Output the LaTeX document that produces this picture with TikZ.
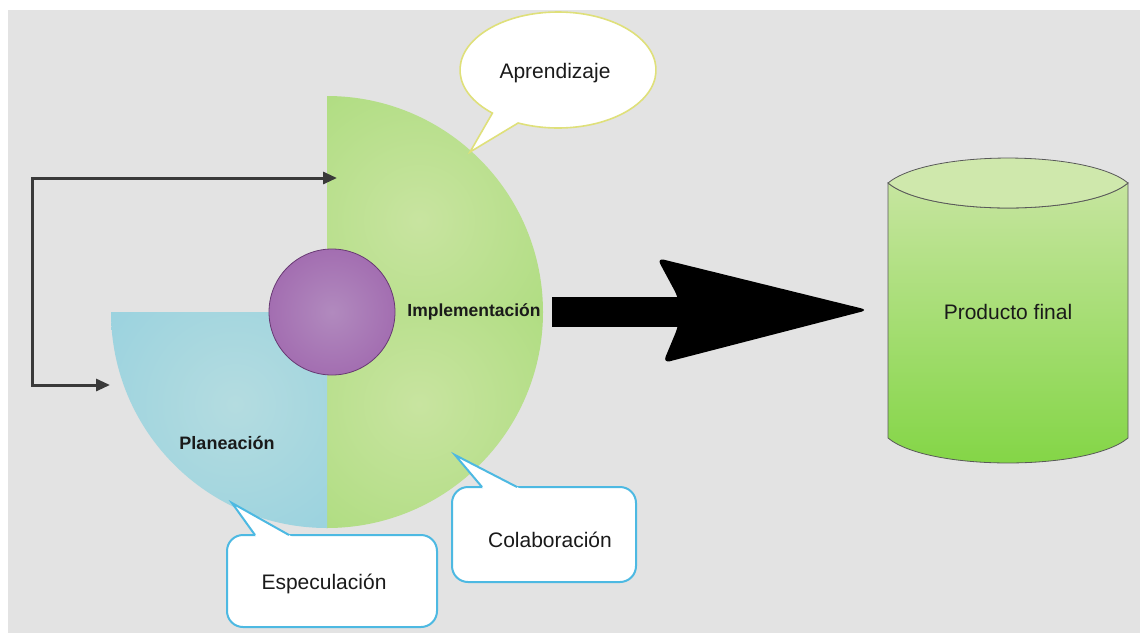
\documentclass[tikz,border=0pt]{standalone}
\usepackage{fontspec}
\setmainfont{Liberation Sans}
\usetikzlibrary{arrows.meta}
\definecolor{bg}{HTML}{E3E3E3}
\definecolor{greenin}{HTML}{C8E4A0}
\definecolor{greenout}{HTML}{88D150}
\definecolor{bluein}{HTML}{B4DCE0}
\definecolor{blueout}{HTML}{70C2DC}
\definecolor{purplein}{HTML}{B18ABE}
\definecolor{purpleout}{HTML}{9552A4}
\definecolor{cyltop}{HTML}{CFE8AC}
\definecolor{cylup}{HTML}{C6E59F}
\definecolor{cyldown}{HTML}{82D544}
\definecolor{callblue}{HTML}{4DB9E2}
\definecolor{callyellow}{HTML}{DFE07A}
\definecolor{fbgray}{HTML}{3A3A3A}
\definecolor{txt}{HTML}{1A1A1A}
\pgfdeclareradialshading{greenq}{\pgfpointorigin}{color(0bp)=(greenin); color(50bp)=(greenout)}
\pgfdeclareradialshading{blueq}{\pgfpointorigin}{color(0bp)=(bluein); color(50bp)=(blueout)}
\pgfdeclareradialshading{purpleball}{\pgfpointorigin}{color(0bp)=(purplein); color(50bp)=(purpleout)}
\tikzset{
  lbl/.style={text=txt, inner sep=0pt, font=\fontsize{21}{25}\selectfont},
  boldlbl/.style={text=txt, inner sep=0pt, font=\bfseries\fontsize{18}{22}\selectfont},
  callbox/.style={fill=white, draw=callblue, line width=2pt, rounded corners=16pt},
  calltail/.style={draw=callblue, line width=2pt},
  fbline/.style={draw=fbgray, line width=3pt, {Triangle[length=14pt,width=12pt]}-{Triangle[length=14pt,width=12pt]}},
  cylline/.style={draw=black!65, line width=0.8pt}
}
\begin{document}
\begin{tikzpicture}[x=1pt,y=-1pt]
\useasboundingbox (0,0) rectangle (1140,633);
\fill[white] (0,0) rectangle (1140,633);
\fill[bg] (8,10) rectangle (1140,633);

% centre of the disc
\coordinate (disc) at (327,312);

% green upper quarter
\begin{scope}
  \clip (disc) -- ++(0,-216) arc[start angle=-90, end angle=0, radius=216] -- cycle;
  \shade[shading=greenq] (419,220) circle (210);
\end{scope}
% green lower quarter
\begin{scope}
  \clip (disc) -- ++(216,0) arc[start angle=0, end angle=90, radius=216] -- cycle;
  \shade[shading=greenq] (419,404) circle (210);
\end{scope}
% blue quarter
\begin{scope}
  \clip (disc) -- ++(0,216) arc[start angle=90, end angle=180, radius=216] -- cycle;
  \shade[shading=blueq] (235,404) circle (210);
\end{scope}

% purple core
\node[circle, minimum size=126pt, inner sep=0pt, shading=purpleball, draw=purpleout!70!black, line width=0.8pt] (core) at (332,312) {};

% labels on the disc
\node[boldlbl, font=\bfseries\fontsize{17.5}{20}\selectfont] (impl) at (474,312) {Implementación};
\node[boldlbl] (plan) at (227,443) {Planeación};

% feedback arrow
\coordinate (fbTop) at (337,178);
\coordinate (fbBot) at (110,385);
\draw[fbline] (fbTop) -- (32,178) |- (fbBot);

% big black arrow
\coordinate (bigTip) at (868,310);
\fill[black] (552,297) rectangle (692,327);
\fill[black, rounded corners=7pt] (680,312) -- (678,297) -- (657,258) -- (bigTip) -- (663,363) -- (678,327) -- cycle;

% cylinder
\shade[top color=cylup, bottom color=cyldown, cylline]
  (888,183) .. controls (928,216.3) and (1088,216.3) .. (1128,183) -- (1128,438)
  .. controls (1088,471.3) and (928,471.3) .. (888,438) -- cycle;
\filldraw[fill=cyltop, cylline]
  (888,183) .. controls (928,149.7) and (1088,149.7) .. (1128,183)
  .. controls (1088,216.3) and (928,216.3) .. (888,183) -- cycle;
\node[lbl] (prod) at (1008,312) {Producto final};

% Aprendizaje bubble
\coordinate (aprC) at (558,70);
\filldraw[fill=white, draw=callyellow, line width=1.6pt]
  ([shift={(114:98 and 58)}]aprC) -- (470,152) -- ([shift={(132:98 and 58)}]aprC)
  arc[start angle=132, end angle=474, x radius=98, y radius=58] -- cycle;
\node[lbl] (apr) at (555,73) {Aprendizaje};

% Colaboracion callout
\filldraw[callbox] (452,487) rectangle (636,582);
\fill[white] (455,455) -- (485.4,491) -- (524.7,491) -- cycle;
\draw[calltail] (482,487) -- (455,455) -- (517,487);
\node[lbl] (colab) at (550,540) {Colaboración};

% Especulacion callout
\filldraw[callbox] (227,535) rectangle (437,627);
\fill[white] (232,503) -- (257.9,539) -- (296.1,539) -- cycle;
\draw[calltail] (255,535) -- (232,503) -- (289,535);
\node[lbl] (espec) at (324,584) {Especulación};
\end{tikzpicture}
\end{document}
